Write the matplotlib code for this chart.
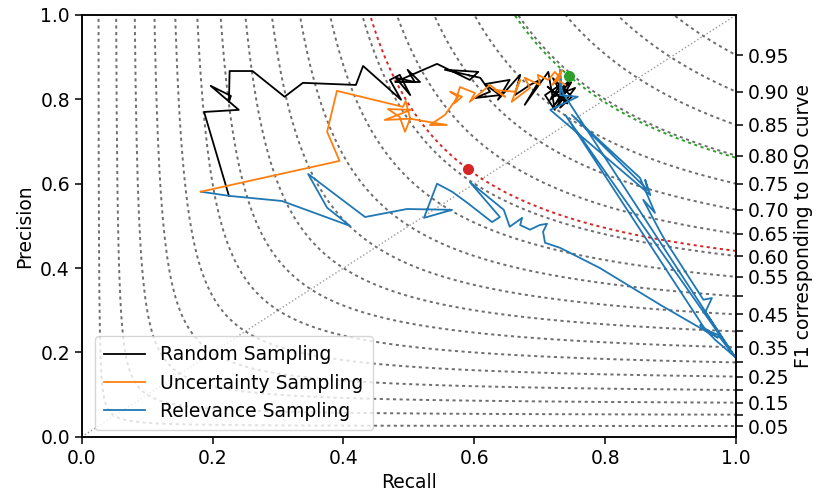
import numpy as np
import matplotlib
matplotlib.use("Agg")
import matplotlib.pyplot as plt

# ---- data -------------------------------------------------------------
random_recall = [0.225, 0.187, 0.240, 0.197, 0.228, 0.225, 0.226, 0.261, 0.310, 0.338,
                 0.419, 0.430, 0.488, 0.471, 0.486, 0.502, 0.480, 0.509, 0.498, 0.517,
                 0.479, 0.543, 0.593, 0.606, 0.555, 0.609, 0.624, 0.601, 0.639, 0.616,
                 0.654, 0.636, 0.670, 0.662, 0.685, 0.700, 0.677, 0.713, 0.723, 0.708,
                 0.731, 0.716, 0.746, 0.723, 0.739, 0.754, 0.731, 0.749, 0.720, 0.742,
                 0.712, 0.735, 0.725, 0.748, 0.718, 0.738, 0.730]
random_precision = [0.571, 0.770, 0.775, 0.832, 0.808, 0.794, 0.867, 0.867, 0.806, 0.839,
                    0.834, 0.879, 0.799, 0.846, 0.858, 0.810, 0.851, 0.841, 0.870, 0.841,
                    0.841, 0.884, 0.846, 0.865, 0.870, 0.851, 0.818, 0.803, 0.810, 0.836,
                    0.846, 0.799, 0.858, 0.810, 0.834, 0.846, 0.787, 0.865, 0.775, 0.810,
                    0.834, 0.799, 0.846, 0.787, 0.818, 0.827, 0.780, 0.806, 0.850, 0.790,
                    0.830, 0.800, 0.780, 0.840, 0.805, 0.815, 0.795]

uncertainty_recall = [0.182, 0.394, 0.375, 0.390, 0.491, 0.495, 0.502, 0.494, 0.486, 0.468,
                      0.503, 0.463, 0.502, 0.558, 0.532, 0.555, 0.575, 0.563, 0.581, 0.570,
                      0.578, 0.601, 0.593, 0.624, 0.647, 0.631, 0.662, 0.670, 0.657, 0.685,
                      0.677, 0.700, 0.697, 0.713, 0.723, 0.731, 0.719, 0.734, 0.728, 0.739]
uncertainty_precision = [0.581, 0.654, 0.723, 0.820, 0.782, 0.796, 0.754, 0.723, 0.758, 0.777,
                         0.775, 0.751, 0.754, 0.739, 0.739, 0.763, 0.806, 0.818, 0.806, 0.791,
                         0.829, 0.815, 0.794, 0.834, 0.806, 0.822, 0.818, 0.846, 0.794, 0.827,
                         0.851, 0.834, 0.858, 0.846, 0.865, 0.851, 0.834, 0.870, 0.846, 0.834]

relevance_recall = [0.182, 0.226, 0.306, 0.410, 0.375, 0.346, 0.433, 0.497, 0.566, 0.523,
                    0.543, 0.566, 0.589, 0.627, 0.639, 0.593, 0.645, 0.654, 0.673, 0.670,
                    0.685, 0.700, 0.711, 0.705, 0.708, 0.731, 0.792, 0.884, 0.963, 0.945,
                    0.972, 0.953, 0.968, 0.998, 0.734, 0.731, 0.731, 0.758, 0.716, 0.869,
                    0.861, 0.865, 0.749, 0.853, 0.876, 0.858, 0.884, 0.891, 0.950, 0.963,
                    0.953, 0.998, 0.739, 0.953, 0.972, 0.998]
relevance_precision = [0.581, 0.571, 0.559, 0.500, 0.543, 0.623, 0.521, 0.540, 0.538, 0.519,
                       0.600, 0.581, 0.555, 0.509, 0.521, 0.604, 0.538, 0.498, 0.519, 0.502,
                       0.491, 0.502, 0.505, 0.486, 0.460, 0.448, 0.400, 0.313, 0.242, 0.265,
                       0.235, 0.254, 0.230, 0.190, 0.818, 0.870, 0.810, 0.806, 0.775, 0.573,
                       0.609, 0.585, 0.763, 0.614, 0.531, 0.562, 0.486, 0.467, 0.325, 0.329,
                       0.296, 0.190, 0.763, 0.254, 0.242, 0.190]

red_point = (0.590, 0.635)
green_point = (0.745, 0.855)

f_scores = [0.05, 0.10, 0.15, 0.20, 0.25, 0.30, 0.35, 0.40, 0.45, 0.50,
            0.55, 0.60, 0.65, 0.70, 0.75, 0.80, 0.85, 0.90, 0.95]
f_labels = ["0.05", "", "0.15", "", "0.25", "", "0.35", "", "0.45", "",
            "0.55", "0.60", "0.65", "0.70", "0.75", "0.80", "0.85", "0.90", "0.95"]

# ---- figure -----------------------------------------------------------
FS = 13.5
plt.rcParams.update({
    "font.size": FS,
    "xtick.major.size": 5, "ytick.major.size": 5,
    "xtick.major.width": 1.1, "ytick.major.width": 1.1,
    "axes.linewidth": 1.1,
})

fig = plt.figure(figsize=(8.17, 4.97), dpi=100)
ax = fig.add_axes([0.100, 0.121, 0.801, 0.849])

DASH = (0, (1.6, 1.8))


def iso_f1(ax, f, **kw):
    x = np.linspace(0.001, 1, 2000)
    y = f * x / (2 * x - f)
    m = (y >= 0) & (x > f / 2)
    ax.plot(x[m], y[m], **kw)


for f in f_scores:
    iso_f1(ax, f, color="#555555", ls=DASH, lw=1.4, alpha=0.85, zorder=1)

f_red = 2 * red_point[0] * red_point[1] / (red_point[0] + red_point[1])
f_green = 2 * green_point[0] * green_point[1] / (green_point[0] + green_point[1])
iso_f1(ax, f_red, color="#d62728", ls=DASH, lw=1.4, zorder=1.5)
iso_f1(ax, f_green, color="#2ca02c", ls=DASH, lw=1.4, zorder=1.5)

ax.plot([0, 1], [0, 1], color="gray", ls=":", lw=1.0, alpha=0.8, zorder=1)

ax.plot(random_recall, random_precision, color="black", lw=1.3, label="Random Sampling", zorder=3)
ax.plot(uncertainty_recall, uncertainty_precision, color="#ff7f0e", lw=1.3,
        label="Uncertainty Sampling", zorder=4)
ax.plot(relevance_recall, relevance_precision, color="#1f77b4", lw=1.3,
        label="Relevance Sampling", zorder=3.5)

ax.plot(*red_point, "o", color="#d62728", ms=7, zorder=5)
ax.plot(*green_point, "o", color="#2ca02c", ms=7, zorder=5)

ax.set_xlim(0, 1)
ax.set_ylim(0, 1)
ax.set_xticks(np.arange(0, 1.01, 0.2))
ax.set_yticks(np.arange(0, 1.01, 0.2))
ax.set_xlabel("Recall")
ax.set_ylabel("Precision")

leg = ax.legend(loc="lower left", fontsize=FS, handlelength=2.2, borderpad=0.5,
                labelspacing=0.5, borderaxespad=0.35, framealpha=0.8,
                bbox_to_anchor=(0.01, 0.0))

ax2 = ax.twinx()
ax2.set_ylim(0, 1)
ax2.set_yticks([f / (2 - f) for f in f_scores])
ax2.set_yticklabels(f_labels)
ax2.set_ylabel("F1 corresponding to ISO curve", labelpad=3)

fig.savefig("out.png", dpi=100)
